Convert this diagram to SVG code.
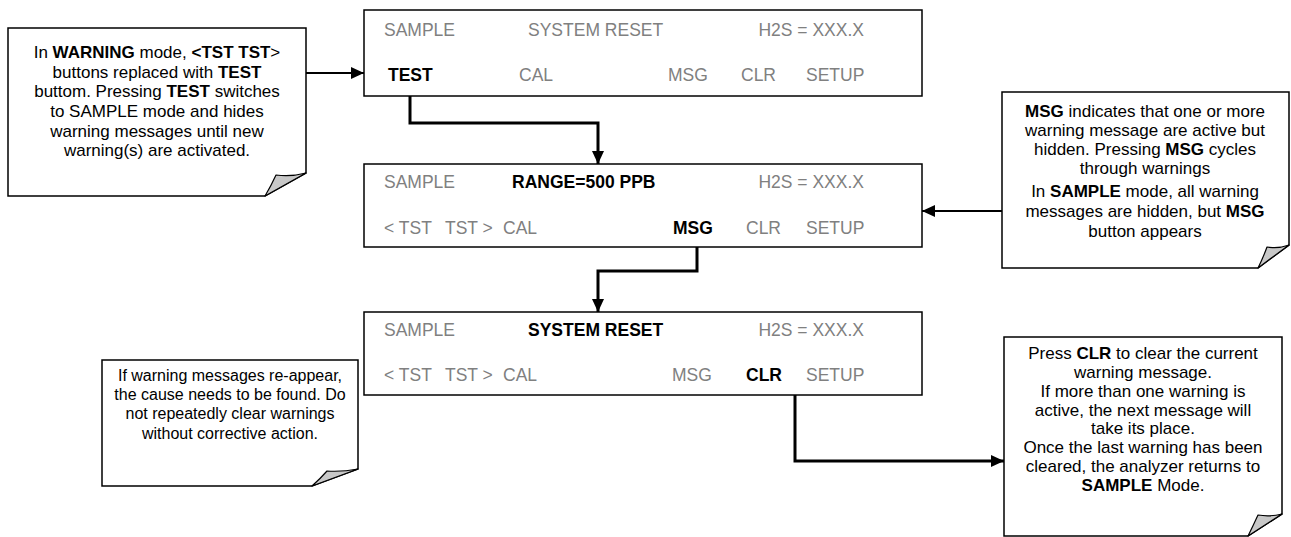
<svg xmlns="http://www.w3.org/2000/svg" width="1291" height="537" viewBox="0 0 1291 537">
<style>
.panel{fill:#fff;stroke:#000;stroke-width:1.5}
.note{fill:#fff;stroke:#000;stroke-width:1.5}
.fold{fill:#c8c8c8;stroke:#000;stroke-width:1.2;stroke-linejoin:round}
.pt{font-family:"Liberation Sans",Arial,sans-serif;font-size:17.5px;fill:#808080}
.pb{font-weight:bold;fill:#000}
.nt{font-family:"Liberation Sans",Arial,sans-serif;font-size:17px;fill:#000;text-anchor:middle}
.sm{font-size:16px}
.b{font-weight:bold}
.con{fill:none;stroke:#000;stroke-width:3}
.thin{stroke-width:2}
</style>
<defs>
<marker id="ah" markerUnits="userSpaceOnUse" markerWidth="14" markerHeight="12" refX="13" refY="6" orient="auto">
<path d="M0,0 L13,6 L0,12 z" fill="#000"/>
</marker>
</defs>

<g id="note-warning">
<path class="note" d="M8,28 H306 V173 L265,196 H8 Z"/>
<path class="fold" d="M265,196 L306,173 Q291,177 276,175 Q271,186 265,196 Z"/>
<text class="nt" x="157" y="58">In <tspan class="b">WARNING</tspan> mode, <tspan class="b">&lt;TST  TST</tspan>&gt;</text>
<text class="nt" x="157" y="78">buttons replaced with <tspan class="b">TEST</tspan></text>
<text class="nt" x="157" y="97">buttom. Pressing <tspan class="b">TEST</tspan> switches</text>
<text class="nt" x="157" y="117">to SAMPLE mode and hides</text>
<text class="nt" x="157" y="137">warning messages until new</text>
<text class="nt" x="157" y="156">warning(s) are activated.</text>
</g>

<g id="panel-1">
<rect class="panel" x="364" y="10" width="558" height="86"/>
<text class="pt" x="384" y="36">SAMPLE</text>
<text class="pt" x="528" y="36">SYSTEM RESET</text>
<text class="pt" x="864" y="36" text-anchor="end">H2S = XXX.X</text>
<text class="pt pb" x="388" y="81">TEST</text>
<text class="pt" x="519" y="81">CAL</text>
<text class="pt" x="668" y="81">MSG</text>
<text class="pt" x="741" y="81">CLR</text>
<text class="pt" x="806" y="81">SETUP</text>
</g>

<g id="panel-2">
<rect class="panel" x="364" y="164" width="558" height="83"/>
<text class="pt" x="384" y="188">SAMPLE</text>
<text class="pt pb" x="512" y="188">RANGE=500 PPB</text>
<text class="pt" x="864" y="188" text-anchor="end">H2S = XXX.X</text>
<text class="pt" x="384" y="234">&lt; TST</text>
<text class="pt" x="445" y="234">TST &gt;</text>
<text class="pt" x="503" y="234">CAL</text>
<text class="pt pb" x="673" y="234">MSG</text>
<text class="pt" x="746" y="234">CLR</text>
<text class="pt" x="806" y="234">SETUP</text>
</g>

<g id="panel-3">
<rect class="panel" x="364" y="312" width="558" height="83"/>
<text class="pt" x="384" y="336">SAMPLE</text>
<text class="pt pb" x="528" y="336">SYSTEM RESET</text>
<text class="pt" x="864" y="336" text-anchor="end">H2S = XXX.X</text>
<text class="pt" x="384" y="381">&lt; TST</text>
<text class="pt" x="445" y="381">TST &gt;</text>
<text class="pt" x="503" y="381">CAL</text>
<text class="pt" x="672" y="381">MSG</text>
<text class="pt pb" x="746" y="381">CLR</text>
<text class="pt" x="806" y="381">SETUP</text>
</g>

<g id="note-msg">
<path class="note" d="M1002,92 H1289 V245 L1258,268 H1002 Z"/>
<path class="fold" d="M1258,268 L1289,245 Q1278,249 1267,247 Q1263,258 1258,268 Z"/>
<text class="nt" x="1145" y="117"><tspan class="b">MSG</tspan> indicates that one or more</text>
<text class="nt" x="1145" y="136">warning message are active but</text>
<text class="nt" x="1145" y="155">hidden.  Pressing <tspan class="b">MSG</tspan> cycles</text>
<text class="nt" x="1145" y="174">through warnings</text>
<text class="nt" x="1145" y="197">In <tspan class="b">SAMPLE</tspan> mode, all warning</text>
<text class="nt" x="1145" y="217">messages are hidden, but <tspan class="b">MSG</tspan></text>
<text class="nt" x="1145" y="237">button appears</text>
</g>

<g id="note-reappear">
<path class="note" d="M102,360 H358 V469 L312,486 H102 Z"/>
<path class="fold" d="M312,486 L358,469 Q342,472 327,471 Q320,479 312,486 Z"/>
<text class="nt sm" x="230" y="381">If warning messages re-appear,</text>
<text class="nt sm" x="230" y="400">the cause needs to be found. Do</text>
<text class="nt sm" x="230" y="419">not repeatedly clear warnings</text>
<text class="nt sm" x="230" y="439">without corrective action.</text>
</g>

<g id="note-clr">
<path class="note" d="M1004,337 H1282 V514 L1248,536 H1004 Z"/>
<path class="fold" d="M1248,536 L1282,514 Q1270,517 1258,515 Q1253,526 1248,536 Z"/>
<text class="nt" x="1143" y="359">Press <tspan class="b">CLR</tspan> to clear the current</text>
<text class="nt" x="1143" y="378">warning message.</text>
<text class="nt" x="1143" y="397">If more than one warning is</text>
<text class="nt" x="1143" y="416">active, the next message will</text>
<text class="nt" x="1143" y="434">take its place.</text>
<text class="nt" x="1143" y="453">Once the last warning has been</text>
<text class="nt" x="1143" y="472">cleared, the analyzer returns to</text>
<text class="nt" x="1143" y="491"><tspan class="b">SAMPLE</tspan> Mode.</text>
</g>

<g id="connectors">
<path class="con thin" d="M306,73 H364" marker-end="url(#ah)"/>
<path class="con" d="M410,96 V123 H598 V164" marker-end="url(#ah)"/>
<path class="con thin" d="M1002,211 H922" marker-end="url(#ah)"/>
<path class="con" d="M697,247 V271 H598 V312" marker-end="url(#ah)"/>
<path class="con" d="M795,395 V461 H1004" marker-end="url(#ah)"/>
</g>
</svg>
